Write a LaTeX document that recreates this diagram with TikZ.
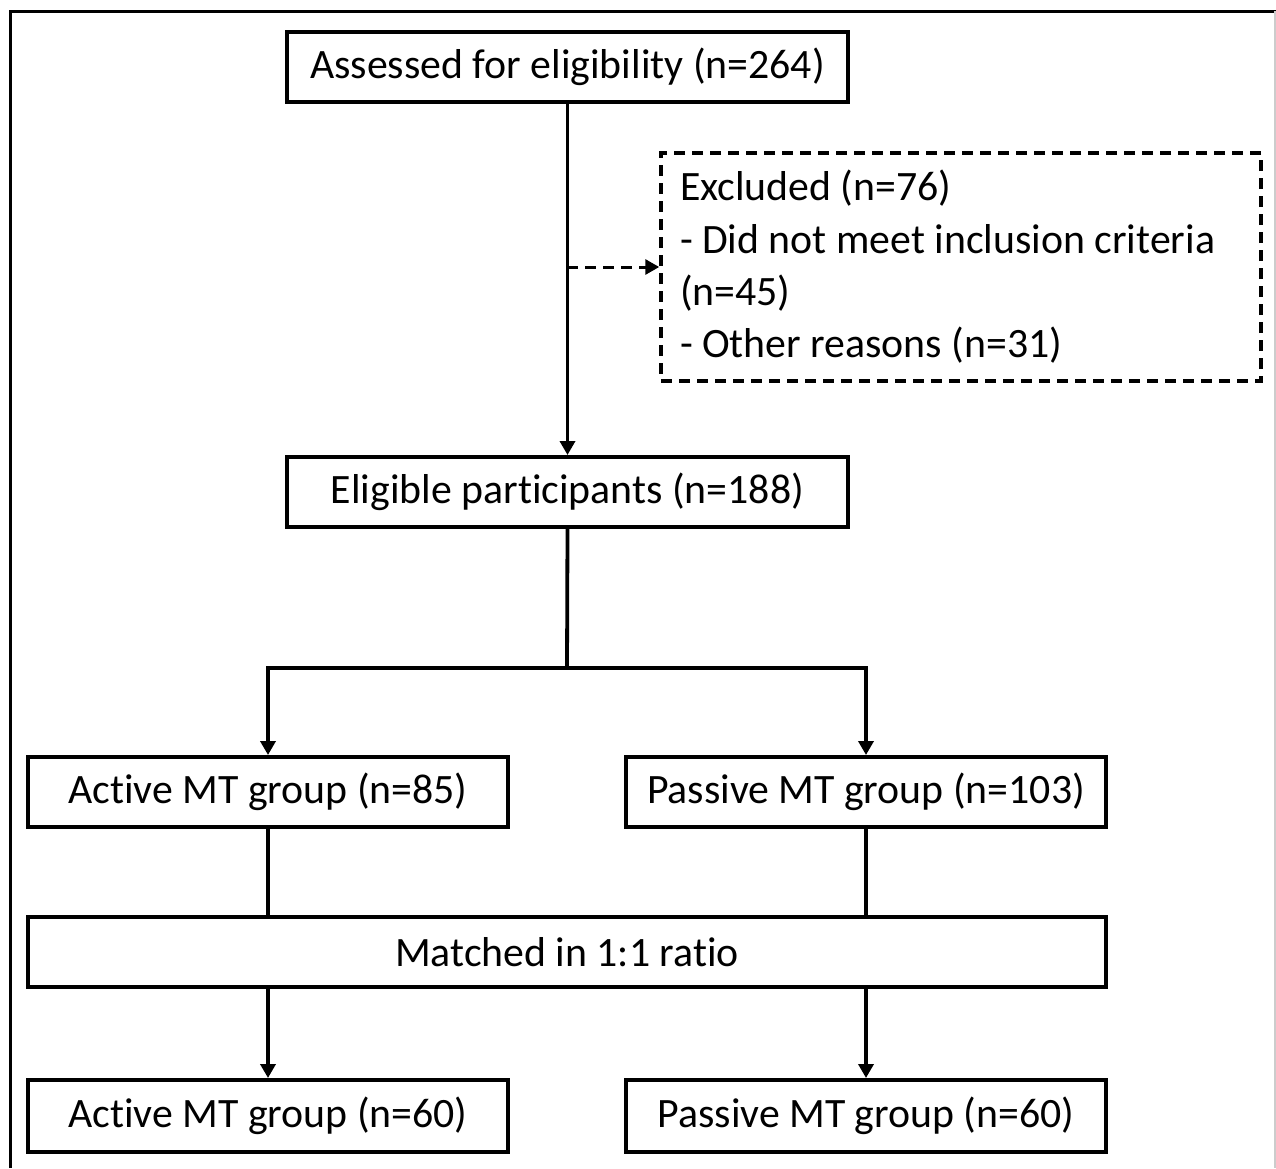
\documentclass[tikz,border=0pt]{standalone}
\usepackage{fontspec}
\setmainfont{Carlito}[Ligatures=NoCommon]
\usetikzlibrary{arrows.meta}
\begin{document}
\begin{tikzpicture}[x=1pt,y=-1pt,
  box/.style={draw=black, line width=4pt, minimum height=70pt, inner sep=0pt, font=\fontsize{41.8}{52.3}\selectfont},
  link/.style={line width=3.8pt},
  tip/.tip={Triangle[length=14pt,width=15pt]},
  arr/.style={link, -tip},
  dsh/.style={dash pattern=on 11pt off 7pt}]
\useasboundingbox (0,0) rectangle (1276,1168);
\draw[line width=3pt] (10,1168) -- (10,11) -- (1276,11);
\draw[line width=1.5pt, black!20] (1275,11) -- (1275,1168);

\node[box, minimum width=561pt] (assess) at (567.5,67) {Assessed for eligibility (n=264)};
\node[box, dsh, line width=3.5pt, minimum width=600pt, minimum height=228pt, text width=562pt] (excl) at (961,267)
  {\spaceskip=0pt\relax\raggedright Excluded (n=76)\\- Did not meet inclusion criteria\\(n=45)\\- Other reasons (n=31)};
\node[box, minimum width=561pt] (elig) at (567.5,492) {Eligible participants (n=188)};
\node[box, minimum width=480pt] (act) at (268,792) {Active MT group (n=85)};
\node[box, minimum width=480pt] (pas) at (866,792) {Passive MT group (n=103)};
\node[box, minimum width=1078pt] (match) at (567,952) {Matched in 1:1 ratio};
\node[box, minimum width=480pt, minimum height=72pt] (act2) at (268,1116) {Active MT group (n=60)};
\node[box, minimum width=480pt, minimum height=72pt] (pas2) at (866,1116) {Passive MT group (n=60)};

\coordinate (exclsrc) at (567,267);
\coordinate (split) at (567,668);

\draw[arr] (assess.south) -- (elig.north);
\draw[link, dsh, line width=3pt, -tip] (exclsrc) -- (excl.west);
\draw[link] (elig.south) -- (split);
\draw[arr] (split) -| (act.north);
\draw[arr] (split) -| (pas.north);
\draw[link] (act.south) -- (act.south |- match.north);
\draw[link] (pas.south) -- (pas.south |- match.north);
\draw[arr] (act.south |- match.south) -- (act2.north);
\draw[arr] (pas.south |- match.south) -- (pas2.north);
\end{tikzpicture}
\end{document}
